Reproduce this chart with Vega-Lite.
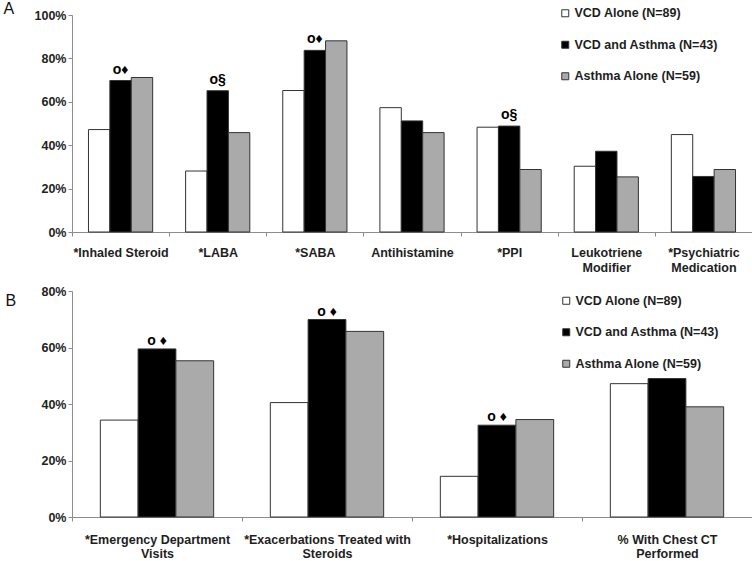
{
  "$schema": "https://vega.github.io/schema/vega-lite/v6.json",
  "background": "white",
  "padding": {"left": 3, "top": 0, "right": 0, "bottom": 0},
  "spacing": 11,
  "config": {
    "view": {"stroke": null},
    "font": "Liberation Sans",
    "axis": {
      "domainColor": "#8c8c8c",
      "tickColor": "#8c8c8c",
      "labelFont": "Liberation Sans",
      "labelFontWeight": "bold",
      "labelFontSize": 12.5,
      "labelColor": "#1e1e1e",
      "grid": false,
      "tickSize": 4
    },
    "legend": {
      "symbolType": "square",
      "symbolSize": 49,
      "symbolStrokeColor": "#333333",
      "symbolStrokeWidth": 1,
      "labelFont": "Liberation Sans",
      "labelFontSize": 12.5,
      "labelFontWeight": "bold",
      "labelColor": "#1e1e1e",
      "rowPadding": 18.5,
      "labelOffset": 3,
      "padding": 0
    }
  },
  "datasets": {
    "medications": [
      {"category": "*Inhaled Steroid", "group": "VCD Alone (N=89)", "pct": 0.472, "note": ""},
      {"category": "*Inhaled Steroid", "group": "VCD and Asthma (N=43)", "pct": 0.698, "note": "o♦"},
      {"category": "*Inhaled Steroid", "group": "Asthma Alone (N=59)", "pct": 0.712, "note": ""},
      {"category": "*LABA", "group": "VCD Alone (N=89)", "pct": 0.281, "note": ""},
      {"category": "*LABA", "group": "VCD and Asthma (N=43)", "pct": 0.651, "note": "o§"},
      {"category": "*LABA", "group": "Asthma Alone (N=59)", "pct": 0.458, "note": ""},
      {"category": "*SABA", "group": "VCD Alone (N=89)", "pct": 0.652, "note": ""},
      {"category": "*SABA", "group": "VCD and Asthma (N=43)", "pct": 0.837, "note": "o♦"},
      {"category": "*SABA", "group": "Asthma Alone (N=59)", "pct": 0.881, "note": ""},
      {"category": "Antihistamine", "group": "VCD Alone (N=89)", "pct": 0.573, "note": ""},
      {"category": "Antihistamine", "group": "VCD and Asthma (N=43)", "pct": 0.512, "note": ""},
      {"category": "Antihistamine", "group": "Asthma Alone (N=59)", "pct": 0.458, "note": ""},
      {"category": "*PPI", "group": "VCD Alone (N=89)", "pct": 0.483, "note": ""},
      {"category": "*PPI", "group": "VCD and Asthma (N=43)", "pct": 0.488, "note": "o§"},
      {"category": "*PPI", "group": "Asthma Alone (N=59)", "pct": 0.288, "note": ""},
      {"category": "Leukotriene\nModifier", "group": "VCD Alone (N=89)", "pct": 0.303, "note": ""},
      {"category": "Leukotriene\nModifier", "group": "VCD and Asthma (N=43)", "pct": 0.372, "note": ""},
      {"category": "Leukotriene\nModifier", "group": "Asthma Alone (N=59)", "pct": 0.254, "note": ""},
      {"category": "*Psychiatric\nMedication", "group": "VCD Alone (N=89)", "pct": 0.449, "note": ""},
      {"category": "*Psychiatric\nMedication", "group": "VCD and Asthma (N=43)", "pct": 0.256, "note": ""},
      {"category": "*Psychiatric\nMedication", "group": "Asthma Alone (N=59)", "pct": 0.288, "note": ""}
    ],
    "utilization": [
      {"category": "*Emergency Department\nVisits", "group": "VCD Alone (N=89)", "pct": 0.343, "note": ""},
      {"category": "*Emergency Department\nVisits", "group": "VCD and Asthma (N=43)", "pct": 0.595, "note": "o ♦"},
      {"category": "*Emergency Department\nVisits", "group": "Asthma Alone (N=59)", "pct": 0.553, "note": ""},
      {"category": "*Exacerbations Treated with\nSteroids", "group": "VCD Alone (N=89)", "pct": 0.405, "note": ""},
      {"category": "*Exacerbations Treated with\nSteroids", "group": "VCD and Asthma (N=43)", "pct": 0.699, "note": "o ♦"},
      {"category": "*Exacerbations Treated with\nSteroids", "group": "Asthma Alone (N=59)", "pct": 0.657, "note": ""},
      {"category": "*Hospitalizations", "group": "VCD Alone (N=89)", "pct": 0.144, "note": ""},
      {"category": "*Hospitalizations", "group": "VCD and Asthma (N=43)", "pct": 0.325, "note": "o ♦"},
      {"category": "*Hospitalizations", "group": "Asthma Alone (N=59)", "pct": 0.345, "note": ""},
      {"category": "% With Chest CT\nPerformed", "group": "VCD Alone (N=89)", "pct": 0.472, "note": ""},
      {"category": "% With Chest CT\nPerformed", "group": "VCD and Asthma (N=43)", "pct": 0.490, "note": ""},
      {"category": "% With Chest CT\nPerformed", "group": "Asthma Alone (N=59)", "pct": 0.390, "note": ""}
    ]
  },
  "vconcat": [
    {
      "width": 680,
      "height": 217,
      "data": {"name": "medications"},
      "encoding": {
        "x": {
          "field": "category", "type": "nominal", "sort": null,
          "scale": {"paddingInner": 0, "paddingOuter": 0},
          "axis": {
            "title": null, "labelAngle": 0, "tickBand": "extent",
            "labelPadding": 10, "labelLineHeight": 15,
            "labelExpr": "split(datum.label, '\\n')",
            "labelLimit": 0, "labelOverlap": false, "labelBaseline": "top"
          }
        },
        "xOffset": {
          "field": "group", "type": "nominal", "sort": null,
          "scale": {"paddingInner": 0, "paddingOuter": 0.77}
        },
        "y": {
          "field": "pct", "type": "quantitative",
          "scale": {"domain": [0, 1]},
          "axis": {
            "values": [0, 0.2, 0.4, 0.6, 0.8, 1], "format": ".0%",
            "labelPadding": 2,
            "title": "A", "titleAngle": 0, "titleAlign": "left", "titleBaseline": "top",
            "titleX": -69, "titleY": -15, "titleFontSize": 16, "titleFontWeight": "normal",
            "titleFont": "Liberation Sans", "titleColor": "#111111"
          }
        }
      },
      "layer": [
        {
          "mark": {"type": "bar", "stroke": "#333333", "strokeWidth": 1},
          "encoding": {
            "color": {
              "field": "group", "type": "nominal", "sort": null,
              "scale": {
                "domain": ["VCD Alone (N=89)", "VCD and Asthma (N=43)", "Asthma Alone (N=59)"],
                "range": ["#ffffff", "#000000", "#aaaaaa"]
              },
              "legend": {"title": null, "orient": "none", "legendX": 487, "legendY": -8}
            }
          }
        },
        {
          "transform": [{"filter": "datum.note != ''"}],
          "mark": {"type": "text", "font": "Liberation Sans", "fontWeight": "bold", "fontSize": 14, "color": "#000000", "baseline": "alphabetic", "dy": -7},
          "encoding": {"text": {"field": "note"}}
        }
      ]
    },
    {
      "width": 680,
      "height": 226,
      "data": {"name": "utilization"},
      "encoding": {
        "x": {
          "field": "category", "type": "nominal", "sort": null,
          "scale": {"paddingInner": 0, "paddingOuter": 0},
          "axis": {
            "title": null, "labelAngle": 0, "tickBand": "extent",
            "labelPadding": 12, "labelLineHeight": 14,
            "labelExpr": "split(datum.label, '\\n')",
            "labelLimit": 0, "labelOverlap": false, "labelBaseline": "top"
          }
        },
        "xOffset": {
          "field": "group", "type": "nominal", "sort": null,
          "scale": {"paddingInner": 0, "paddingOuter": 0.75}
        },
        "y": {
          "field": "pct", "type": "quantitative",
          "scale": {"domain": [0, 0.8]},
          "axis": {
            "values": [0, 0.2, 0.4, 0.6, 0.8], "format": ".0%",
            "labelPadding": 2,
            "title": "B", "titleAngle": 0, "titleAlign": "left", "titleBaseline": "top",
            "titleX": -67, "titleY": 1, "titleFontSize": 16, "titleFontWeight": "normal",
            "titleFont": "Liberation Sans", "titleColor": "#111111"
          }
        }
      },
      "layer": [
        {
          "mark": {"type": "bar", "stroke": "#333333", "strokeWidth": 1},
          "encoding": {
            "color": {
              "field": "group", "type": "nominal", "sort": null,
              "scale": {
                "domain": ["VCD Alone (N=89)", "VCD and Asthma (N=43)", "Asthma Alone (N=59)"],
                "range": ["#ffffff", "#000000", "#aaaaaa"]
              },
              "legend": {"title": null, "orient": "none", "legendX": 488, "legendY": 3.5}
            }
          }
        },
        {
          "transform": [{"filter": "datum.note != ''"}],
          "mark": {"type": "text", "font": "Liberation Sans", "fontWeight": "bold", "fontSize": 14, "color": "#000000", "baseline": "alphabetic", "dy": -4},
          "encoding": {"text": {"field": "note"}}
        }
      ]
    }
  ],
  "resolve": {
    "scale": {"color": "independent", "x": "independent", "y": "independent", "xOffset": "independent"},
    "legend": {"color": "independent"}
  }
}
